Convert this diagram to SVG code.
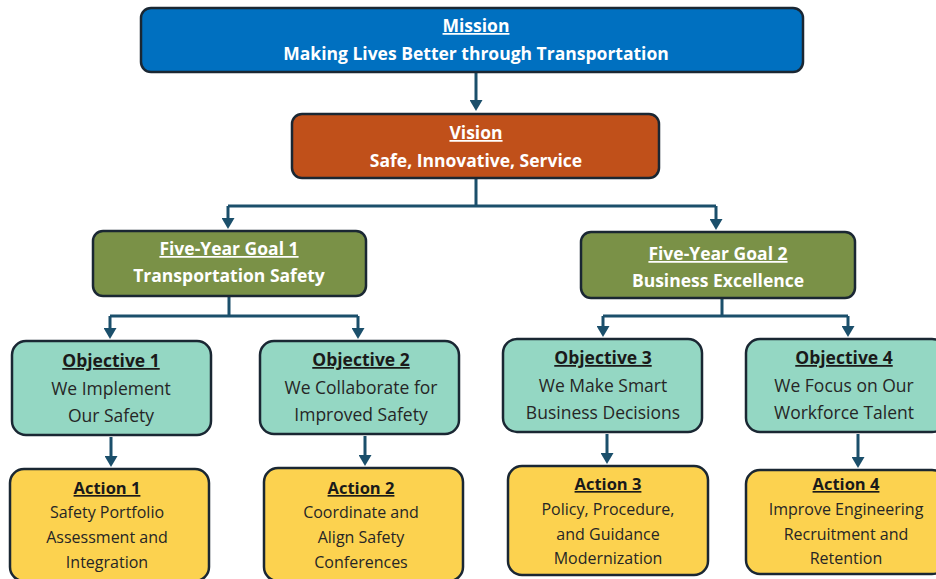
<svg xmlns="http://www.w3.org/2000/svg" width="936" height="579" viewBox="0 0 936 579">
<defs>
<marker id="ah" markerWidth="11" markerHeight="13" refX="1" refY="6.5" orient="auto" markerUnits="userSpaceOnUse" viewBox="0 0 11 13">
<path d="M0,0 L11,6.5 L0,13 z" fill="#1B4F6B"/>
</marker>
<style>
.box{stroke:#1A2733;stroke-width:2.5}
.mission{fill:#0070C0}
.vision{fill:#C0501A}
.goal{fill:#7A9147}
.obj{fill:#94D7C3}
.act{fill:#FCD24F}
.conn{fill:none;stroke:#1B4F6B;stroke-width:3}
text{font-family:"Open Sans","Liberation Sans",sans-serif;text-anchor:middle}
.wt{fill:#FFFFFF;font-weight:bold;font-size:17.5px}
.wh{fill:#FFFFFF;font-weight:bold;font-size:17.5px;text-decoration:underline}
.dh{fill:#1A1A1A;font-weight:bold;font-size:17.5px;text-decoration:underline}
.ah{fill:#1A1A1A;font-weight:bold;font-size:16.5px;text-decoration:underline}
.dt{fill:#262626;font-size:17.5px}
.at{fill:#262626;font-size:16px}
</style>
</defs>
<rect width="936" height="579" fill="#FFFFFF"/>
<g id="connectors">
<path class="conn" d="M476,73 V101" marker-end="url(#ah)"/>
<path class="conn" d="M476,179 V206 M228,206 H716"/>
<path class="conn" d="M228,206 V219" marker-end="url(#ah)"/>
<path class="conn" d="M716,206 V220" marker-end="url(#ah)"/>
<path class="conn" d="M229,297 V316 M110,316 H358"/>
<path class="conn" d="M110,316 V329" marker-end="url(#ah)"/>
<path class="conn" d="M358,316 V329" marker-end="url(#ah)"/>
<path class="conn" d="M722,299 V316 M603,316 H848"/>
<path class="conn" d="M603,316 V327" marker-end="url(#ah)"/>
<path class="conn" d="M848,316 V327" marker-end="url(#ah)"/>
<path class="conn" d="M111,437 V457" marker-end="url(#ah)"/>
<path class="conn" d="M365,436 V456" marker-end="url(#ah)"/>
<path class="conn" d="M607,434 V454" marker-end="url(#ah)"/>
<path class="conn" d="M858,434 V458" marker-end="url(#ah)"/>
</g>
<g id="mission">
<rect class="box mission" x="141" y="8" width="662" height="64" rx="10"/>
<text class="wh" x="476" y="32">Mission</text>
<text class="wt" x="476" y="60">Making Lives Better through Transportation</text>
</g>
<g id="vision">
<rect class="box vision" x="292" y="114" width="367" height="64" rx="10"/>
<text class="wh" x="476" y="139">Vision</text>
<text class="wt" x="476" y="167">Safe, Innovative, Service</text>
</g>
<g id="goal1">
<rect class="box goal" x="93" y="231" width="273" height="65" rx="10"/>
<text class="wh" x="229" y="255">Five-Year Goal 1</text>
<text class="wt" x="229" y="282">Transportation Safety</text>
</g>
<g id="goal2">
<rect class="box goal" x="581" y="232" width="274" height="66" rx="10"/>
<text class="wh" x="718" y="260">Five-Year Goal 2</text>
<text class="wt" x="718" y="287">Business Excellence</text>
</g>
<g id="objective1">
<rect class="box obj" x="12" y="341" width="199" height="94" rx="14"/>
<text class="dh" x="111" y="367">Objective 1</text>
<text class="dt" x="111" y="395">We Implement</text>
<text class="dt" x="111" y="422">Our Safety</text>
</g>
<g id="objective2">
<rect class="box obj" x="260" y="341" width="199" height="93" rx="14"/>
<text class="dh" x="361" y="366">Objective 2</text>
<text class="dt" x="361" y="394">We Collaborate for</text>
<text class="dt" x="361" y="421">Improved Safety</text>
</g>
<g id="objective3">
<rect class="box obj" x="503" y="339" width="199" height="93" rx="14"/>
<text class="dh" x="603" y="364">Objective 3</text>
<text class="dt" x="603" y="392">We Make Smart</text>
<text class="dt" x="603" y="419">Business Decisions</text>
</g>
<g id="objective4">
<rect class="box obj" x="746" y="339" width="200" height="93" rx="14"/>
<text class="dh" x="844" y="364">Objective 4</text>
<text class="dt" x="844" y="392">We Focus on Our</text>
<text class="dt" x="844" y="419">Workforce Talent</text>
</g>
<g id="action1">
<rect class="box act" x="10" y="469" width="199" height="112" rx="14"/>
<text class="ah" x="107" y="494">Action 1</text>
<text class="at" x="107" y="518">Safety Portfolio</text>
<text class="at" x="107" y="543">Assessment and</text>
<text class="at" x="107" y="568">Integration</text>
</g>
<g id="action2">
<rect class="box act" x="264" y="468" width="199" height="113" rx="14"/>
<text class="ah" x="361" y="494">Action 2</text>
<text class="at" x="361" y="518">Coordinate and</text>
<text class="at" x="361" y="543">Align Safety</text>
<text class="at" x="361" y="568">Conferences</text>
</g>
<g id="action3">
<rect class="box act" x="508" y="466" width="200" height="109" rx="14"/>
<text class="ah" x="608" y="490">Action 3</text>
<text class="at" x="608" y="515">Policy, Procedure,</text>
<text class="at" x="608" y="540">and Guidance</text>
<text class="at" x="608" y="564">Modernization</text>
</g>
<g id="action4">
<rect class="box act" x="746" y="470" width="200" height="104" rx="14"/>
<text class="ah" x="846" y="490">Action 4</text>
<text class="at" x="846" y="515">Improve Engineering</text>
<text class="at" x="846" y="540">Recruitment and</text>
<text class="at" x="846" y="564">Retention</text>
</g>
</svg>
